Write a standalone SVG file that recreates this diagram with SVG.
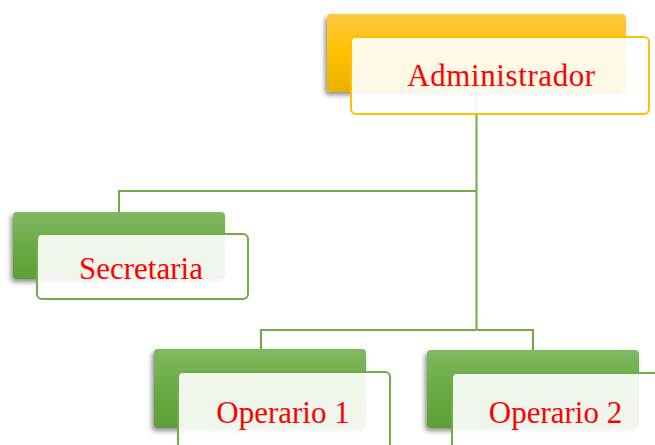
<svg xmlns="http://www.w3.org/2000/svg" width="655" height="445" viewBox="0 0 655 445">
<defs>
<linearGradient id="gy" x1="0" y1="0" x2="0" y2="1">
<stop offset="0" stop-color="#FFC93F"/>
<stop offset="0.5" stop-color="#FFC000"/>
<stop offset="1" stop-color="#E8B000"/>
</linearGradient>
<linearGradient id="gg" x1="0" y1="0" x2="0" y2="1">
<stop offset="0" stop-color="#80B962"/>
<stop offset="0.5" stop-color="#6AAA44"/>
<stop offset="1" stop-color="#5E9E36"/>
</linearGradient>
<filter id="sh" x="-10%" y="-20%" width="120%" height="150%">
<feDropShadow dx="-2" dy="3" stdDeviation="2.5" flood-color="#000" flood-opacity="0.45"/>
</filter>
<style>
.back-y{fill:url(#gy);filter:url(#sh)}
.back-g{fill:url(#gg);filter:url(#sh)}
.front-y{fill:#FFFFFF;fill-opacity:0.9;stroke:#FFC000;stroke-width:2}
.front-g{fill:#FFFFFF;fill-opacity:0.9;stroke:#70AD47;stroke-width:2}
.lbl{font-family:"Liberation Serif","Times New Roman",serif;font-size:31px;fill:#FF0000;text-anchor:middle}
.conn{fill:none;stroke:#70AD47;stroke-width:2}
</style>
</defs>
<rect width="655" height="445" fill="#FFFFFF"/>
<g id="connectors">
<path class="conn" d="M476.5 92 V330"/>
<path class="conn" d="M476.5 191 H119 V212"/>
<path class="conn" d="M476.5 330 H261 V349"/>
<path class="conn" d="M476.5 330 H533 V350"/>
</g>
<g id="administrador">
<rect class="back-y" x="327" y="14" width="299" height="78" rx="4"/>
<rect class="front-y" x="351" y="37" width="298" height="77" rx="5"/>
<text class="lbl" x="501.5" y="86" letter-spacing="0.6">Administrador</text>
</g>
<g id="secretaria">
<rect class="back-g" x="13" y="212" width="212" height="67" rx="4"/>
<rect class="front-g" x="37" y="234" width="211" height="65" rx="5"/>
<text class="lbl" x="141" y="279">Secretaria</text>
</g>
<g id="operario1">
<rect class="back-g" x="154" y="349" width="212" height="79" rx="4"/>
<rect class="front-g" x="178" y="372" width="212" height="80" rx="5"/>
<text class="lbl" x="283" y="423">Operario 1</text>
</g>
<g id="operario2">
<rect class="back-g" x="427" y="350" width="212" height="78" rx="4"/>
<rect class="front-g" x="452" y="373" width="212" height="80" rx="5"/>
<text class="lbl" x="555.5" y="423">Operario 2</text>
</g>
</svg>
